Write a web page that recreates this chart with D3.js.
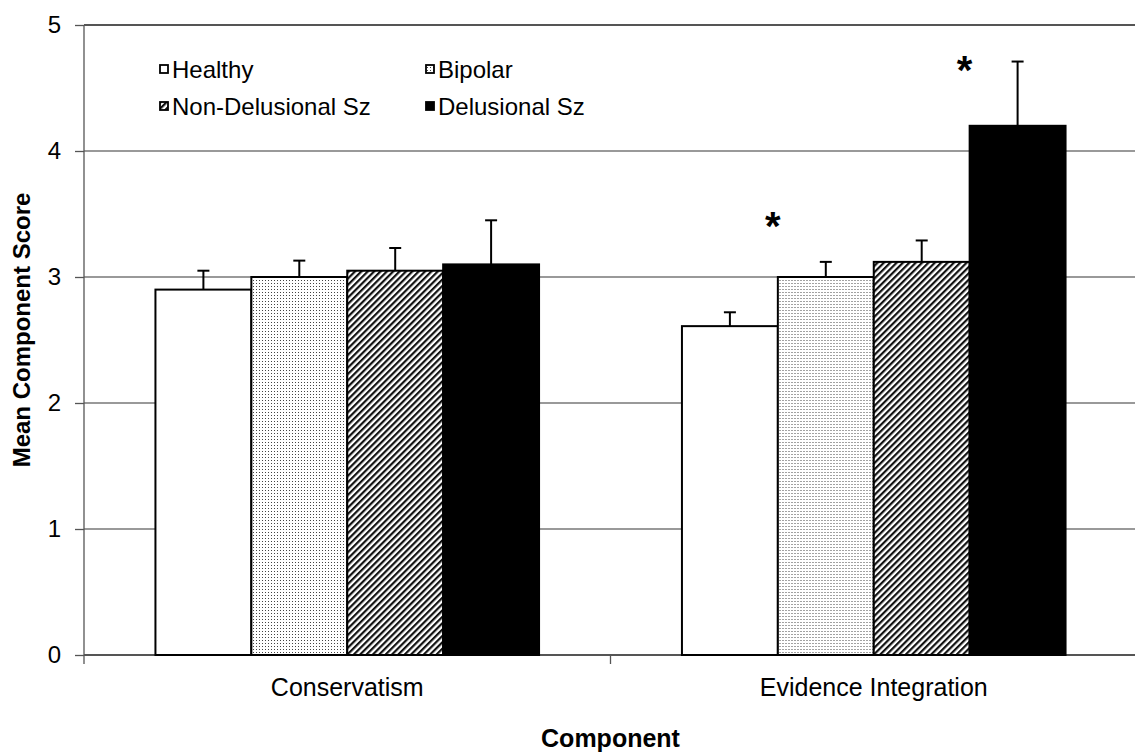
<!DOCTYPE html>
<html>
<head>
<meta charset="utf-8">
<script src="https://cdn.jsdelivr.net/npm/d3@7"></script>
<style>
  body { margin: 0; background: #fff; }
  text { font-family: "Liberation Sans", Arial, sans-serif; }
</style>
</head>
<body>
<div class="chart-container"></div>
<script>
// data
var components = ['Conservatism', 'Evidence Integration'];
var groups = ['Healthy', 'Bipolar', 'Non-Delusional Sz', 'Delusional Sz'];
var healthy = [2.9, 2.61];
var bipolar = [3.0, 3.0];
var nonDelusional = [3.05, 3.12];
var delusional = [3.1, 4.2];
var healthyErr = [0.15, 0.11];
var bipolarErr = [0.13, 0.12];
var nonDelusionalErr = [0.18, 0.17];
var delusionalErr = [0.35, 0.51];
var yTicks = [0, 1, 2, 3, 4, 5];
// significance markers: [component index, group index]
var stars = [[1, 1], [1, 3]];

var series = [healthy, bipolar, nonDelusional, delusional];
var errors = [healthyErr, bipolarErr, nonDelusionalErr, delusionalErr];

var width = 1135,
  height = 756,
  margin = { top: 25, right: -2, bottom: 101, left: 84 };

var svg = d3
  .select('.chart-container')
  .append('svg')
  .attr('width', width)
  .attr('height', height);

var defs = svg.append('defs');

// dotted fill for bipolar
var dots = defs
  .append('pattern')
  .attr('id', 'dots')
  .attr('patternUnits', 'userSpaceOnUse')
  .attr('width', 3)
  .attr('height', 3);
dots.append('rect').attr('width', 3).attr('height', 3).attr('fill', '#fff');
dots
  .append('rect')
  .attr('x', 1)
  .attr('y', 1)
  .attr('width', 1)
  .attr('height', 1)
  .attr('fill', '#444');

// diagonal hatch for non-delusional
var hatch = defs
  .append('pattern')
  .attr('id', 'hatch')
  .attr('patternUnits', 'userSpaceOnUse')
  .attr('width', 4.5)
  .attr('height', 4.5)
  .attr('patternTransform', 'rotate(45)');
hatch.append('rect').attr('width', 4.5).attr('height', 4.5).attr('fill', '#fff');
hatch
  .append('rect')
  .attr('x', 0)
  .attr('y', 0)
  .attr('width', 2.2)
  .attr('height', 4.5)
  .attr('fill', '#111');

var fills = ['#fff', 'url(#dots)', 'url(#hatch)', '#000'];

var x0 = d3
  .scaleBand()
  .domain(components)
  .range([margin.left, width - margin.right]);

var x1 = d3
  .scaleBand()
  .domain(groups)
  .range([0, x0.bandwidth()])
  .paddingOuter(0.745)
  .paddingInner(0);

var y = d3
  .scaleLinear()
  .domain([0, 5])
  .range([height - margin.bottom, margin.top]);

// gridlines
svg
  .append('g')
  .selectAll('line')
  .data(yTicks.filter(function (d) { return d > 0; }))
  .enter()
  .append('line')
  .attr('x1', margin.left)
  .attr('x2', width)
  .attr('y1', function (d) { return y(d); })
  .attr('y2', function (d) { return y(d); })
  .attr('stroke', function (d) { return d === 5 ? '#555' : '#777'; })
  .attr('stroke-width', function (d) { return d === 5 ? 2 : 1.3; });

// y axis
var yAxis = svg
  .append('g')
  .attr('transform', 'translate(' + margin.left + ',0)')
  .call(d3.axisLeft(y).tickValues(yTicks).tickFormat(d3.format('d')).tickSize(9).tickPadding(14));
yAxis.select('.domain').attr('stroke', '#555').attr('stroke-width', 1.3)
  .attr('d', 'M0,' + margin.top + 'V' + (height - margin.bottom + 9));
yAxis.selectAll('.tick line').attr('stroke', '#555').attr('stroke-width', 1.3);
yAxis.selectAll('.tick text').attr('font-size', 24).attr('fill', '#000')
  .attr('font-family', '"Liberation Sans", Arial, sans-serif');

// x axis
var xAxis = svg
  .append('g')
  .attr('transform', 'translate(0,' + y(0) + ')');
xAxis
  .append('line')
  .attr('x1', margin.left)
  .attr('x2', width)
  .attr('stroke', '#555')
  .attr('stroke-width', 2);
xAxis
  .selectAll('.sep')
  .data(components)
  .enter()
  .append('line')
  .attr('class', 'sep')
  .attr('x1', function (d) { return x0(d) + x0.bandwidth(); })
  .attr('x2', function (d) { return x0(d) + x0.bandwidth(); })
  .attr('y1', 0)
  .attr('y2', 9)
  .attr('stroke', '#555')
  .attr('stroke-width', 1.3);
xAxis
  .selectAll('.cat')
  .data(components)
  .enter()
  .append('text')
  .attr('class', 'cat')
  .attr('x', function (d) { return x0(d) + x0.bandwidth() / 2; })
  .attr('y', 41)
  .attr('text-anchor', 'middle')
  .attr('font-size', 25)
  .text(function (d) { return d; });

// bars
components.forEach(function (c, ci) {
  var g = svg.append('g').attr('transform', 'translate(' + x0(c) + ',0)');
  groups.forEach(function (grp, gi) {
    var v = series[gi][ci],
      e = errors[gi][ci],
      cx = x1(grp) + x1.bandwidth() / 2;
    g.append('line')
      .attr('x1', cx)
      .attr('x2', cx)
      .attr('y1', y(v))
      .attr('y2', y(v + e))
      .attr('stroke', '#000')
      .attr('stroke-width', 2);
    g.append('line')
      .attr('x1', cx - 6)
      .attr('x2', cx + 6)
      .attr('y1', y(v + e))
      .attr('y2', y(v + e))
      .attr('stroke', '#000')
      .attr('stroke-width', 2);
    g.append('rect')
      .attr('x', x1(grp))
      .attr('y', y(v))
      .attr('width', x1.bandwidth())
      .attr('height', y(0) - y(v))
      .attr('fill', fills[gi])
      .attr('stroke', '#000')
      .attr('stroke-width', 2);
  });
});

// significance stars
svg
  .selectAll('.star')
  .data(stars)
  .enter()
  .append('text')
  .attr('class', 'star')
  .attr('x', function (d) { return x0(components[d[0]]) + x1(groups[d[1]]) - 5; })
  .attr('y', function (d) {
    var v = series[d[1]][d[0]] + errors[d[1]][d[0]];
    return d[1] === 3 ? y(v) + 22 : y(v) - 22;
  })
  .attr('text-anchor', 'middle')
  .attr('font-size', 40)
  .attr('font-weight', 'bold')
  .text('*');

// legend
var legend = svg.append('g');
groups.forEach(function (grp, gi) {
  var lx = gi % 2 === 0 ? 160 : 426,
    ly = gi < 2 ? 69 : 106;
  legend
    .append('rect')
    .attr('x', lx)
    .attr('y', ly - 4)
    .attr('width', 8)
    .attr('height', 8)
    .attr('fill', fills[gi])
    .attr('stroke', '#000')
    .attr('stroke-width', 1.8);
  legend
    .append('text')
    .attr('x', lx + 12)
    .attr('y', ly + 8.5)
    .attr('font-size', 24)
    .text(grp);
});

// axis titles
svg
  .append('text')
  .attr('transform', 'translate(30,' + (y(2.5) - 10) + ') rotate(-90)')
  .attr('text-anchor', 'middle')
  .attr('font-size', 24)
  .attr('font-weight', 'bold')
  .text('Mean Component Score');

svg
  .append('text')
  .attr('x', x0.range()[0] + (x0.range()[1] - x0.range()[0]) / 2)
  .attr('y', 747)
  .attr('text-anchor', 'middle')
  .attr('font-size', 25)
  .attr('font-weight', 'bold')
  .text('Component');
</script>
</body>
</html>
